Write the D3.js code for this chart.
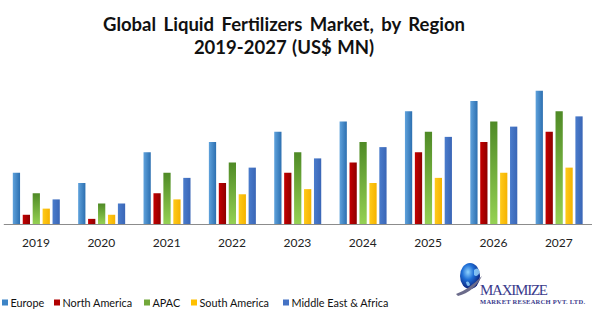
<!DOCTYPE html>
<html>
<head>
<meta charset="utf-8">
<script src="https://cdn.jsdelivr.net/npm/d3@7"></script>
<style>
  html, body { margin: 0; padding: 0; background: #fff; }
  svg { display: block; font-family: Lato, "Open Sans", sans-serif; }
</style>
</head>
<body>
<svg id="chart" width="598" height="329"></svg>
<script>
// Market size by region, US$ MN (relative scale)
const years = ["2019", "2020", "2021", "2022", "2023", "2024", "2025", "2026", "2027"];
const regions = ["Europe", "North America", "APAC", "South America", "Middle East & Africa"];
const europe       = [5.0, 4.0, 7.0, 8.0, 9.0, 10.0, 11.0, 12.0, 13.0];
const northAmerica = [0.9, 0.5, 3.0, 4.0, 5.0, 6.0, 7.0, 8.0, 9.0];
const apac         = [3.0, 2.0, 5.0, 6.0, 7.0, 8.0, 9.0, 10.0, 11.0];
const southAmerica = [1.5, 0.9, 2.4, 2.9, 3.4, 4.0, 4.5, 5.0, 5.5];
const mea          = [2.4, 2.0, 4.5, 5.5, 6.4, 7.5, 8.5, 9.5, 10.5];
const seriesValues = [europe, northAmerica, apac, southAmerica, mea];
const colors = ["#3d84c6", "#b00000", "#72a83a", "#ffc000", "#4472c4"];

const svg = d3.select("#chart");
const defs = svg.append("defs");

// Bar fills
function hGrad(id, a, b) {
  const g = defs.append("linearGradient").attr("id", id)
    .attr("x1", "0%").attr("x2", "100%").attr("y1", "0%").attr("y2", "0%");
  g.append("stop").attr("offset", "0%").attr("stop-color", a);
  g.append("stop").attr("offset", "100%").attr("stop-color", b);
}
function vGrad(id, a, b) {
  const g = defs.append("linearGradient").attr("id", id)
    .attr("x1", "0%").attr("x2", "0%").attr("y1", "0%").attr("y2", "100%");
  g.append("stop").attr("offset", "0%").attr("stop-color", a);
  g.append("stop").attr("offset", "100%").attr("stop-color", b);
}
hGrad("g0", "#5fa2dc", "#2c6fb0");
hGrad("g1", "#c40000", "#8e0000");
vGrad("g2", "#4f8a26", "#95d153");
hGrad("g3", "#ffca1a", "#f5b300");
hGrad("g4", "#4a7ccc", "#3a66b6");
const fills = ["url(#g0)", "url(#g1)", "url(#g2)", "url(#g3)", "url(#g4)"];

const baseY = 224;
const x0 = d3.scaleBand().domain(years).range([3.3, 591.5]).paddingInner(0).paddingOuter(0);
const x1 = d3.scaleBand().domain(regions).range([9.5, 56.5]).paddingInner(0.27).paddingOuter(0);
const y = d3.scaleLinear().domain([0, 14]).range([baseY, baseY - 143.5]);

// Title
const title = svg.append("g").attr("font-weight", "bold").attr("fill", "#111")
  .attr("text-anchor", "middle").style("word-spacing", "3px");
title.append("text").attr("x", 284).attr("y", 31).attr("font-size", 18.5).text("Global Liquid Fertilizers Market, by Region");
title.append("text").attr("x", 284).attr("y", 54).attr("font-size", 18.5).style("word-spacing", "1px").text("2019-2027 (US$ MN)");

// Bars
const groups = svg.append("g").selectAll("g").data(years).join("g")
  .attr("transform", d => `translate(${x0(d)},0)`);
groups.selectAll("rect")
  .data((yr, i) => regions.map((r, j) => ({ region: r, j, value: seriesValues[j][i] })))
  .join("rect")
  .attr("x", d => x1(d.region))
  .attr("width", x1.bandwidth())
  .attr("y", d => y(d.value))
  .attr("height", d => baseY - y(d.value))
  .attr("fill", d => fills[d.j]);

// Category axis
const axis = svg.append("g").attr("transform", `translate(0,${baseY})`)
  .call(d3.axisBottom(x0).tickSize(0).tickSizeOuter(0).tickPadding(14));
axis.select(".domain").attr("stroke", "#8c8c8c").attr("stroke-width", 1.2);
axis.selectAll("text").attr("font-size", 12).attr("fill", "#222")
  .style("font-family", "Lato, 'Open Sans', sans-serif");

// Legend
const legendX = [2, 54, 144, 191, 283];
const legend = svg.append("g").selectAll("g").data(regions).join("g")
  .attr("transform", (d, i) => `translate(${legendX[i]},299)`);
legend.append("rect").attr("width", 6).attr("height", 6).attr("y", 0.5)
  .attr("fill", (d, i) => colors[i]);
const legendText = legend.append("text").attr("x", 8.5).attr("y", 8).attr("font-size", 13)
  .attr("fill", "#111").text(d => d);
// fit the longest label into its slot before the company mark
const longest = legendText.filter(d => d === "Middle East & Africa").node().getComputedTextLength();
const legendSize = Math.min(13, 13 * 97 / longest);
legendText.attr("font-size", legendSize);

// Company mark
const logo = svg.append("g");
const globeG = defs.append("radialGradient").attr("id", "globe")
  .attr("cx", "40%").attr("cy", "35%").attr("r", "65%");
globeG.append("stop").attr("offset", "0%").attr("stop-color", "#8fd3ff");
globeG.append("stop").attr("offset", "45%").attr("stop-color", "#1f6fd6");
globeG.append("stop").attr("offset", "100%").attr("stop-color", "#0a1f7a");
logo.append("ellipse").attr("cx", 470).attr("cy", 276).attr("rx", 10).attr("ry", 13).attr("fill", "url(#globe)");
logo.append("path").attr("d", "M456,294 Q468,290 482,276 Q474,292 458,296 Z").attr("fill", "#6b6b8a");
logo.append("path").attr("d", "M474,270 q4,-4 6,2 q-3,6 -6,3 z M466,282 q3,-2 4,3 q-3,3 -4,-3z").attr("fill", "#9bd8ff").attr("opacity", 0.8);
logo.append("text").attr("x", 480).attr("y", 295)
  .style("font-family", "'Liberation Serif', 'DejaVu Serif', serif")
  .attr("font-size", 15).attr("fill", "#3b3b8c").attr("textLength", 68).text("MAXIMIZE");
logo.append("text").attr("x", 480).attr("y", 303.5)
  .style("font-family", "'Liberation Serif', 'DejaVu Serif', serif")
  .attr("font-size", 6.5).attr("font-weight", "bold").attr("fill", "#3b3b8c").attr("textLength", 105).text("MARKET RESEARCH PVT. LTD.");
</script>
</body>
</html>
